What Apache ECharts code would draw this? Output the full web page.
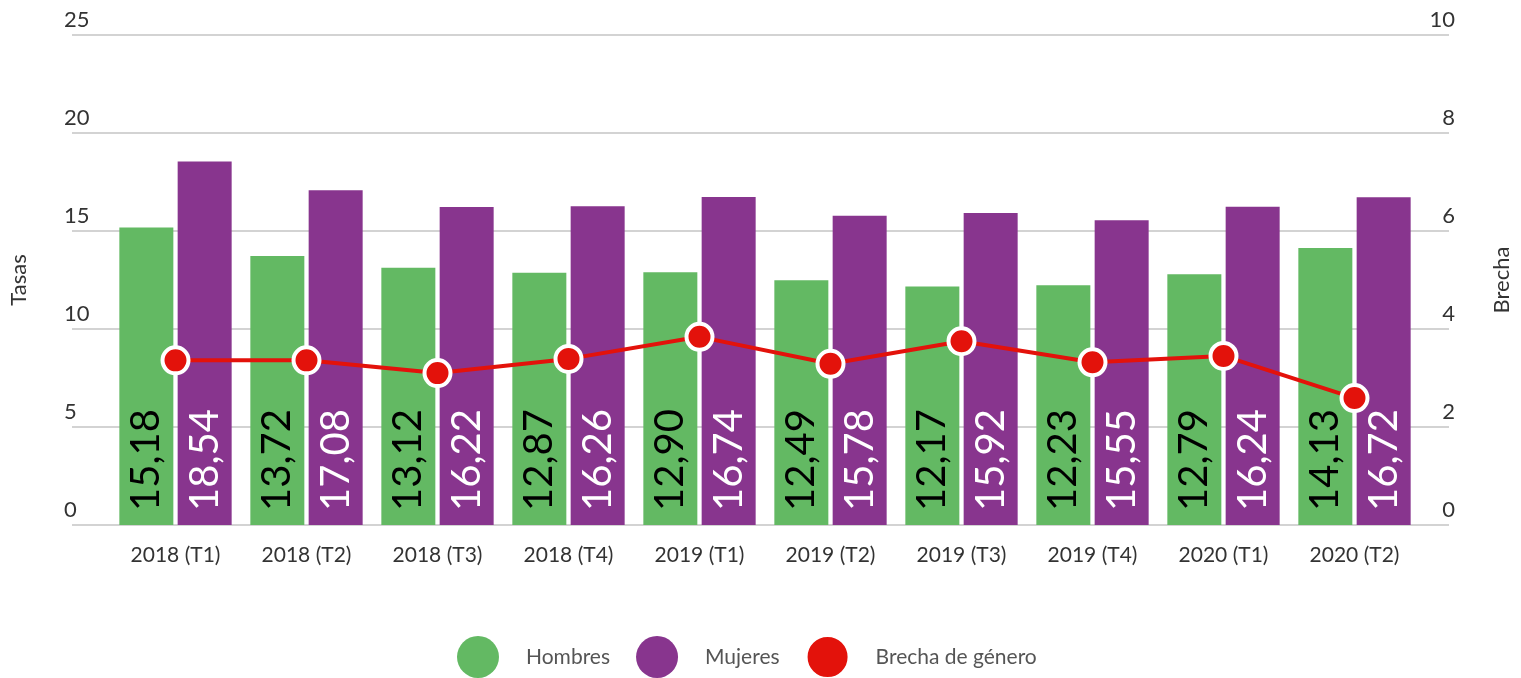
<!DOCTYPE html>
<html>
<head>
<meta charset="utf-8">
<script src="https://cdn.jsdelivr.net/npm/echarts@6/dist/echarts.min.js"></script>
<style>
  html, body { margin: 0; padding: 0; background: #fff; }
  #chart { width: 1521px; height: 678px; }
</style>
</head>
<body>
<div id="chart"></div>
<script>
var categories = ['2018 (T1)', '2018 (T2)', '2018 (T3)', '2018 (T4)', '2019 (T1)', '2019 (T2)', '2019 (T3)', '2019 (T4)', '2020 (T1)', '2020 (T2)'];
var hombres = [15.18, 13.72, 13.12, 12.87, 12.90, 12.49, 12.17, 12.23, 12.79, 14.13];
var mujeres = [18.54, 17.08, 16.22, 16.26, 16.74, 15.78, 15.92, 15.55, 16.24, 16.72];
var brecha = [3.36, 3.36, 3.10, 3.39, 3.84, 3.29, 3.75, 3.32, 3.45, 2.59];

var font = 'Lato, "Liberation Sans", sans-serif';
var green = '#63b963';
var purple = '#88358e';
var red = '#e3120b';

function fmt(v) {
  return v.toFixed(2).replace('.', ',');
}

var chart = echarts.init(document.getElementById('chart'), null, { renderer: 'canvas' });

var barLabel = function (color) {
  return {
    show: true,
    position: 'insideBottom',
    rotate: 90,
    align: 'left',
    verticalAlign: 'middle',
    distance: 14,
    color: color,
    fontFamily: font,
    fontSize: 40,
    formatter: function (p) { return fmt(p.value); }
  };
};

var option = {
  animation: false,
  textStyle: { fontFamily: font },
  legend: {
    bottom: -6,
    left: 452,
    icon: 'circle',
    itemWidth: 42,
    itemHeight: 42,
    itemGap: 26,
    textStyle: { color: '#555', fontSize: 21, padding: [0, 0, 0, 22] },
    data: ['Hombres', 'Mujeres', 'Brecha de género']
  },
  grid: [
    { left: 64, right: 68, top: 35, bottom: 153 },
    { left: 110, right: 101, top: 35, bottom: 153 }
  ],
  xAxis: [
    { gridIndex: 0, type: 'category', data: categories, show: false },
    {
      gridIndex: 1,
      type: 'category',
      data: categories,
      axisLine: { show: false },
      axisTick: { show: false },
      axisLabel: { color: '#333', fontSize: 21, margin: 20 }
    }
  ],
  yAxis: [
    {
      gridIndex: 0,
      type: 'value',
      position: 'left',
      min: 0, max: 25, interval: 5,
      name: 'Tasas',
      nameLocation: 'middle',
      nameRotate: 90,
      nameGap: 42,
      nameTextStyle: { color: '#333', fontSize: 22 },
      axisLine: { show: false },
      axisTick: { show: false },
      axisLabel: { inside: true, margin: -8, align: 'left', verticalAlign: 'bottom', padding: [0, 0, 4, 0], color: '#333', fontSize: 22 },
      splitLine: { lineStyle: { color: '#d3d3d3', width: 2 } }
    },
    {
      gridIndex: 0,
      type: 'value',
      position: 'right',
      min: 0, max: 10, interval: 2,
      name: 'Brecha',
      nameLocation: 'middle',
      nameRotate: 90,
      nameGap: 42,
      nameTextStyle: { color: '#333', fontSize: 22 },
      axisLine: { show: false },
      axisTick: { show: false },
      axisLabel: { inside: true, margin: -6, align: 'right', verticalAlign: 'bottom', padding: [0, 0, 4, 0], color: '#333', fontSize: 22 },
      splitLine: { show: false }
    },
    { gridIndex: 1, type: 'value', min: 0, max: 25, interval: 5, show: false, splitLine: { show: false } },
    { gridIndex: 1, type: 'value', min: 0, max: 10, interval: 2, show: false, splitLine: { show: false } }
  ],
  series: [
    {
      name: 'Hombres',
      type: 'bar',
      xAxisIndex: 1,
      yAxisIndex: 2,
      barWidth: 54,
      barGap: '8%',
      itemStyle: { color: green },
      label: barLabel('#000'),
      data: hombres
    },
    {
      name: 'Mujeres',
      type: 'bar',
      xAxisIndex: 1,
      yAxisIndex: 2,
      barWidth: 54,
      barGap: '8%',
      itemStyle: { color: purple },
      label: barLabel('#fff'),
      data: mujeres
    },
    {
      name: 'Brecha de género',
      type: 'line',
      xAxisIndex: 1,
      yAxisIndex: 3,
      symbol: 'circle',
      symbolSize: 26,
      z: 5,
      lineStyle: { color: red, width: 4 },
      itemStyle: { color: red, borderColor: '#fff', borderWidth: 4 },
      data: brecha
    }
  ]
};

chart.setOption(option);
</script>
</body>
</html>
